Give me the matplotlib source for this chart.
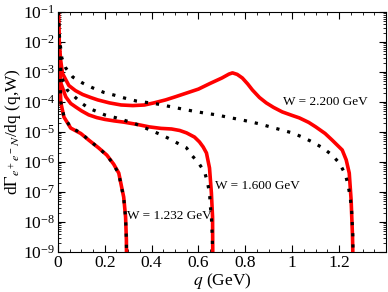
import numpy as np
import matplotlib
matplotlib.use("Agg")
from matplotlib import pyplot as plt
from matplotlib.ticker import LogLocator, LogFormatterMathtext, MultipleLocator, NullFormatter

# W = 2.200 GeV
q_22_red = [0.002, 0.004, 0.007, 0.012, 0.02, 0.047, 0.075, 0.106, 0.14, 0.17, 0.22, 0.27, 0.32, 0.37,
            0.41, 0.46, 0.50, 0.55, 0.60, 0.65, 0.70, 0.73, 0.745, 0.765, 0.787, 0.81, 0.83, 0.86,
            0.889, 0.92, 0.957, 1.0, 1.03, 1.07, 1.10, 1.14, 1.17, 1.213, 1.23, 1.243, 1.251,
            1.257, 1.2605]
lg_22_red = [-1.0, -1.6, -2.1, -2.6, -3.05, -3.45, -3.62, -3.75, -3.85, -3.93, -4.03, -4.1, -4.12, -4.1,
             -4.03, -3.93, -3.83, -3.7, -3.57, -3.38, -3.2, -3.07, -3.03, -3.08, -3.2, -3.4, -3.6, -3.85,
             -4.03, -4.18, -4.33, -4.45, -4.53, -4.68, -4.83, -5.05, -5.27, -5.6, -5.93, -6.37, -7.27,
             -8.5, -10.0]
q_22_dot = [0.002, 0.004, 0.007, 0.012, 0.017, 0.034, 0.064, 0.106, 0.149, 0.196, 0.24, 0.285, 0.336,
            0.383, 0.434, 0.477, 0.528, 0.574, 0.626, 0.677, 0.72, 0.766, 0.81, 0.86, 0.906, 0.953,
            1.0, 1.043, 1.085, 1.13, 1.17, 1.2, 1.226, 1.238, 1.247, 1.253, 1.258, 1.2605]
lg_22_dot = [-1.0, -1.4, -1.8, -2.2, -2.53, -2.87, -3.17, -3.37, -3.53, -3.68, -3.77, -3.87, -3.97,
             -4.02, -4.08, -4.15, -4.23, -4.3, -4.37, -4.43, -4.5, -4.57, -4.64, -4.73, -4.83, -4.93,
             -5.03, -5.17, -5.33, -5.53, -5.77, -6.03, -6.4, -6.77, -7.17, -7.6, -8.4, -10.0]

# W = 1.600 GeV
q_16_red = [0.002, 0.004, 0.008, 0.013, 0.034, 0.055, 0.077, 0.102, 0.132, 0.166, 0.2, 0.24, 0.28,
            0.34, 0.39, 0.44, 0.485, 0.52, 0.549, 0.583, 0.604, 0.62, 0.634, 0.647, 0.655, 0.66, 0.6615]
lg_16_red = [-1.0, -1.7, -2.6, -3.37, -3.83, -4.05, -4.17, -4.3, -4.43, -4.52, -4.58, -4.63, -4.67,
             -4.75, -4.83, -4.88, -4.9, -4.95, -5.03, -5.17, -5.33, -5.5, -5.7, -6.2, -7.03, -7.83, -10.0]
q_16_dot = [0.002, 0.004, 0.008, 0.017, 0.04, 0.064, 0.1, 0.13, 0.17, 0.2, 0.25, 0.28, 0.328, 0.362,
            0.404, 0.443, 0.477, 0.51, 0.549, 0.574, 0.6, 0.626, 0.638, 0.647, 0.651, 0.655, 0.659, 0.6615]
lg_16_dot = [-1.0, -1.7, -2.6, -3.2, -3.6, -3.77, -4.03, -4.2, -4.33, -4.43, -4.53, -4.6, -4.72, -4.83,
             -4.97, -5.1, -5.23, -5.37, -5.53, -5.8, -6.03, -6.33, -6.67, -7.03, -7.5, -7.83, -8.5, -10.0]

# W = 1.232 GeV
q_12_red = [0.002, 0.004, 0.008, 0.013, 0.026, 0.055, 0.098, 0.132, 0.174, 0.209, 0.238, 0.26, 0.272,
            0.281, 0.289, 0.2925, 0.2938]
lg_12_red = [-1.0, -1.9, -3.1, -4.03, -4.5, -4.87, -5.05, -5.27, -5.53, -5.77, -6.07, -6.37, -6.83,
             -7.17, -7.83, -8.6, -10.0]
q_12_dot = [0.002, 0.004, 0.008, 0.013, 0.026, 0.055, 0.098, 0.132, 0.174, 0.209, 0.238, 0.26, 0.272,
            0.281, 0.289, 0.2925, 0.2938]
lg_12_dot = [-1.0, -1.9, -3.1, -4.0, -4.48, -4.85, -5.03, -5.27, -5.53, -5.78, -6.08, -6.4, -6.85,
             -7.2, -7.85, -8.6, -10.0]

labels = ["W = 2.200 GeV", "W = 1.600 GeV", "W = 1.232 GeV"]
xticks = [0, 0.2, 0.4, 0.6, 0.8, 1.0, 1.2]
xticklabels = ["0", "0.2", "0.4", "0.6", "0.8", "1", "1.2"]

plt.rcParams['font.family'] = ['Liberation Serif', 'DejaVu Serif']
plt.rcParams['mathtext.fontset'] = 'stix'

fig = plt.figure(figsize=(3.88, 2.92), dpi=100)
ax = fig.add_axes([0.149, 0.137, 0.846, 0.822])

red_sets = [(q_22_red, lg_22_red), (q_16_red, lg_16_red), (q_12_red, lg_12_red)]
dot_sets = [(q_22_dot, lg_22_dot), (q_16_dot, lg_16_dot), (q_12_dot, lg_12_dot)]

for q, lg in red_sets:
    ax.plot(q, 10.0 ** np.array(lg), color="#ff0000", lw=2.6, solid_capstyle="butt")
for q, lg in dot_sets:
    ax.plot(q, 10.0 ** np.array(lg), color="black", lw=2.3, linestyle=(0, (1, 2.5)),
            dash_capstyle="butt")

ax.set_yscale("log")
ax.set_xlim(0, 1.4)
ax.set_ylim(1e-9, 1e-1)

ax.set_xticks(xticks)
ax.set_xticklabels(xticklabels)
ax.xaxis.set_minor_locator(MultipleLocator(0.05))
ax.yaxis.set_major_locator(LogLocator(base=10, numticks=20))
ax.yaxis.set_minor_locator(LogLocator(base=10, subs=np.arange(2, 10), numticks=20))
ax.yaxis.set_major_formatter(LogFormatterMathtext())
ax.yaxis.set_minor_formatter(NullFormatter())

ax.tick_params(which="both", direction="in", top=True, right=True, labelsize=12.5, pad=2)
ax.tick_params(which="major", length=5, width=0.8)
ax.tick_params(which="minor", length=2.5, width=0.6)

ax.set_xlabel(r"$q$ (GeV)", fontsize=12.5, labelpad=0)
ax.set_ylabel(r"d$\Gamma_{e^+e^-N}$/dq (q,W)", fontsize=12.5, labelpad=0)

ax.text(0.96, 10 ** -4.1, labels[0], fontsize=9.5)
ax.text(0.67, 10 ** -6.9, labels[1], fontsize=9.5)
ax.text(0.295, 10 ** -7.9, labels[2], fontsize=9.5)

fig.savefig("out.png", dpi=100)
